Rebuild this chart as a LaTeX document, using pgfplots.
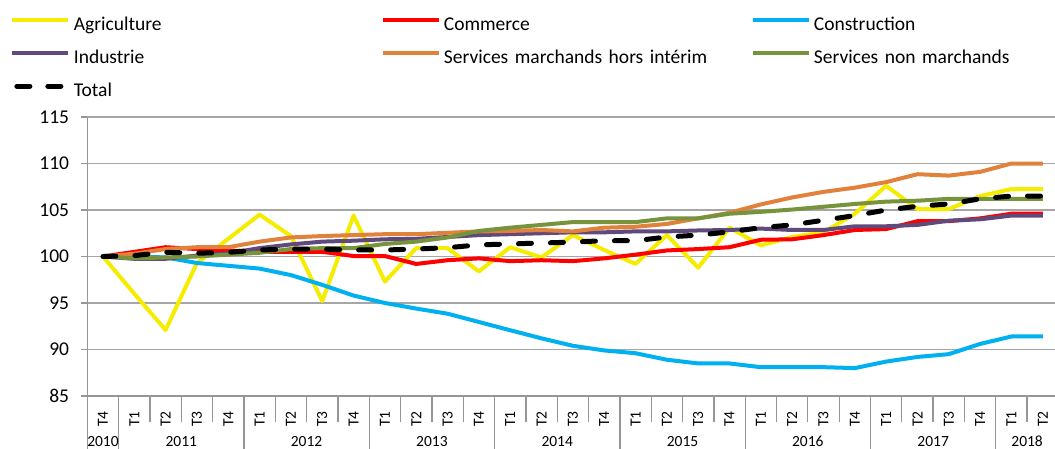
\documentclass[border=0pt]{standalone}
\usepackage{fontspec}
\setmainfont{Carlito}
\usepackage{pgfplots}
\usepackage{pgfplotstable}
\pgfplotsset{compat=1.18}

\definecolor{cAgri}{HTML}{F5EC00}
\definecolor{cComm}{HTML}{FF0000}
\definecolor{cConstr}{HTML}{00B0F0}
\definecolor{cIndus}{HTML}{604A7B}
\definecolor{cSM}{HTML}{E0823C}
\definecolor{cSNM}{HTML}{77933C}
\definecolor{axgray}{HTML}{969696}
\definecolor{gridgray}{HTML}{A6A6A6}

\pgfplotstableread{
x agri comm constr indus sm snm total
0 100 100 100 100 100 100 100
1 96.0 100.5 100.0 99.75 100.3 99.8 100.1
2 92.1 101.0 99.9 99.75 100.8 99.9 100.45
3 99.3 100.8 99.3 100.1 101.0 100.0 100.35
4 101.9 100.65 99.0 100.35 101.0 100.2 100.45
5 104.5 100.5 98.7 100.9 101.6 100.4 100.7
6 102.2 100.5 98.0 101.3 102.05 100.8 100.8
7 95.2 100.5 96.95 101.6 102.2 100.9 100.8
8 104.4 100.05 95.8 101.7 102.3 100.9 100.7
9 97.3 100.05 95.0 101.85 102.4 101.35 100.7
10 100.9 99.2 94.4 101.9 102.4 101.6 100.8
11 100.9 99.6 93.85 102.1 102.55 102.05 100.95
12 98.4 99.8 92.96 102.3 102.7 102.75 101.25
13 101.0 99.5 92.07 102.4 102.75 103.1 101.35
14 99.9 99.6 91.2 102.5 102.85 103.4 101.45
15 102.3 99.5 90.4 102.6 102.7 103.7 101.55
16 100.7 99.8 89.9 102.6 103.1 103.7 101.7
17 99.2 100.2 89.6 102.7 103.2 103.7 101.7
18 102.3 100.65 88.9 102.7 103.5 104.1 102.1
19 98.8 100.8 88.5 102.8 104.1 104.1 102.3
20 103.1 101.0 88.5 102.85 104.7 104.6 102.65
21 101.2 101.8 88.1 103.0 105.6 104.8 103.1
22 102.1 101.85 88.1 102.85 106.35 105.05 103.4
23 102.6 102.3 88.1 102.85 106.95 105.35 103.9
24 104.6 102.85 88.0 103.25 107.4 105.65 104.4
25 107.6 102.95 88.7 103.25 108.0 105.9 105.0
26 105.1 103.8 89.2 103.4 108.85 106.0 105.4
27 105.1 103.8 89.5 103.85 108.7 106.2 105.65
28 106.5 104.1 90.6 104.0 109.1 106.2 106.2
29 107.25 104.6 91.4 104.4 110.0 106.2 106.5
30 107.25 104.6 91.4 104.4 110.0 106.2 106.5
}\data

\newcommand\q[1]{\rotatebox{90}{T#1}}
\newcommand\smallfont{\fontsize{15.5}{18}\selectfont}

\begin{document}
\begin{tikzpicture}[font=\fontsize{19.5}{23}\selectfont]
\begin{axis}[
  at={(87.3pt,52pt)}, anchor=south west, scale only axis,
  width=967.7pt, height=279pt,
  xmin=-0.5, xmax=30.39, ymin=85, ymax=115,
  axis x line*=bottom, axis y line*=left,
  axis line style={color=axgray, line width=1.3pt},
  ytick={85,90,...,115},
  ymajorgrids, major grid style={color=gridgray, line width=1.5pt},
  tick align=outside, major tick length=6pt,
  ytick style={color=axgray, line width=1.3pt},
  xtick style={draw=none},
  xtick={0,...,30},
  xticklabels={\q4,\q1,\q2,\q3,\q4,\q1,\q2,\q3,\q4,\q1,\q2,\q3,\q4,\q1,\q2,\q3,\q4,\q1,\q2,\q3,\q4,\q1,\q2,\q3,\q4,\q1,\q2,\q3,\q4,\q1,\q2},
  xticklabel style={anchor=north, inner sep=0pt, yshift=-9pt, font=\smallfont},
  yticklabel style={anchor=east, inner sep=0pt, xshift=-12pt},
  /pgf/number format/assume math mode=true,
  clip mode=individual,
  legend columns=3,
  legend cell align=left,
  legend style={at={(axis description cs:-0.0795,1.358)}, anchor=north west,
    draw=none, fill=none, inner sep=0pt, outer sep=0pt, row sep=15pt,
    nodes={inner sep=0pt, text width=307pt, text height=13pt, text depth=5pt, align=left},
    /tikz/every odd column/.append style={column sep=3pt}},
  legend image code/.code={\draw[#1, line cap=butt] (0pt,6pt) -- (56pt,6pt);},
  every axis plot/.append style={line join=round},
]
\addplot[cAgri, line width=4pt] table[x=x, y=agri] {\data};
\addlegendentry{Agriculture}
\addplot[cComm, line width=4pt] table[x=x, y=comm] {\data};
\addlegendentry{Commerce}
\addplot[cConstr, line width=4pt] table[x=x, y=constr] {\data};
\addlegendentry{Construction}
\addplot[cIndus, line width=4pt] table[x=x, y=indus] {\data};
\addlegendentry{Industrie}
\addplot[cSM, line width=4pt] table[x=x, y=sm] {\data};
\addlegendentry{Services marchands hors intérim}
\addplot[cSNM, line width=4pt] table[x=x, y=snm] {\data};
\addlegendentry{Services non marchands}
\addplot[black, line width=5pt, line cap=round, dash pattern=on 13pt off 19pt,
  legend image code/.code={\draw[black, line width=5pt, line cap=round, dash pattern=on 13pt off 18pt] (4.5pt,6pt) -- (56pt,6pt);}]
  table[x=x, y=total] {\data};
\addlegendentry{Total}

% category separators
\pgfplotsinvokeforeach{1.5,2.5,3.5,5.5,6.5,7.5,9.5,10.5,11.5,13.5,14.5,15.5,17.5,18.5,19.5,21.5,22.5,23.5,25.5,26.5,27.5,29.5}{
  \draw[axgray, line width=1.3pt] (axis cs:#1,85) -- ++(0pt,-26pt);
}
\pgfplotsinvokeforeach{-0.5,0.5,4.5,8.5,12.5,16.5,20.5,24.5,28.5}{
  \draw[axgray, line width=1.3pt] (axis cs:#1,85) -- ++(0pt,-53pt);
}
% year labels
\node[anchor=base, yshift=-50pt, font=\smallfont] at (axis cs:0,85) {2010};
\node[anchor=base, yshift=-50pt, font=\smallfont] at (axis cs:2.5,85) {2011};
\node[anchor=base, yshift=-50pt, font=\smallfont] at (axis cs:6.5,85) {2012};
\node[anchor=base, yshift=-50pt, font=\smallfont] at (axis cs:10.5,85) {2013};
\node[anchor=base, yshift=-50pt, font=\smallfont] at (axis cs:14.5,85) {2014};
\node[anchor=base, yshift=-50pt, font=\smallfont] at (axis cs:18.5,85) {2015};
\node[anchor=base, yshift=-50pt, font=\smallfont] at (axis cs:22.5,85) {2016};
\node[anchor=base, yshift=-50pt, font=\smallfont] at (axis cs:26.5,85) {2017};
\node[anchor=base, yshift=-50pt, font=\smallfont] at (axis cs:29.5,85) {2018};
\end{axis}
\pgfresetboundingbox
\path[use as bounding box] (0,0) rectangle (1055pt,448pt);
\end{tikzpicture}
\end{document}
